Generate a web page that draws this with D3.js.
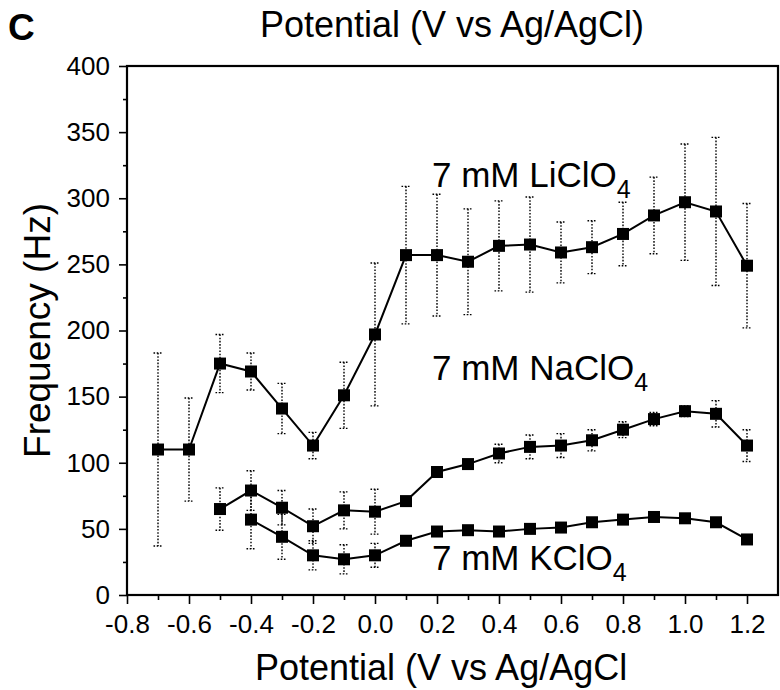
<!DOCTYPE html>
<html>
<head>
<meta charset="utf-8">
<script src="https://cdn.jsdelivr.net/npm/d3@7"></script>
<style>
  html, body { margin: 0; padding: 0; background: #fff; }
  svg { display: block; font-family: "Liberation Sans", Arial, sans-serif; }
</style>
</head>
<body>
<svg id="chart" width="780" height="690"></svg>
<script>
// ---- data ----
const liX = [-0.7,-0.6,-0.5,-0.4,-0.3,-0.2,-0.1,0.0,0.1,0.2,0.3,0.4,0.5,0.6,0.7,0.8,0.9,1.0,1.1,1.2];
const liY = [110,110,175,169,141,113,151,197,257,257,252,264,265,259,263,273,287,297,290,249];
const liErr = [73,39,22,14,19,10,25,54,52,46,40,34,36,23,20,24,29,44,56,47];

const naX = [-0.5,-0.4,-0.3,-0.2,-0.1,0.0,0.1,0.2,0.3,0.4,0.5,0.6,0.7,0.8,0.9,1.0,1.1,1.2];
const naY = [65,79,66,52,64,63,71,93,99,107,112,113,117,125,133,139,137,113];
const naErr = [16,15,13,13,14,17,3,3,3,7,9,9,8,6,5,4,10,12];

const kX = [-0.4,-0.3,-0.2,-0.1,0.0,0.1,0.2,0.3,0.4,0.5,0.6,0.7,0.8,0.9,1.0,1.1,1.2];
const kY = [57,44,30,27,30,41,48,49,48,50,51,55,57,59,58,55,42];
const kErr = [22,17,11,11,9,3,3,3,2,2,3,3,3,3,3,3,2];

const xTicks = [-0.8,-0.6,-0.4,-0.2,0.0,0.2,0.4,0.6,0.8,1.0,1.2];
const yTicks = [0,50,100,150,200,250,300,350,400];
const xMinor = [-0.7,-0.5,-0.3,-0.1,0.1,0.3,0.5,0.7,0.9,1.1];
const yMinor = [25,75,125,175,225,275,325,375];

const labelTexts = ["7 mM LiClO", "7 mM NaClO", "7 mM KClO"];
const labelSub = "4";

// ---- layout ----
const svg = d3.select("#chart");
const L = 127, R = 778, T = 66, B = 595;
const x = d3.scaleLinear().domain([-0.8, 1.3]).range([L, R]);
const y = d3.scaleLinear().domain([0, 400]).range([B, T]);

// axes
const xAxis = svg.append("g").attr("transform", `translate(0,${B})`)
  .call(d3.axisBottom(x).tickValues(xTicks).tickSize(9).tickPadding(11)
        .tickFormat(d => d.toFixed(1)));
const xMin = svg.append("g").attr("transform", `translate(0,${B})`)
  .call(d3.axisBottom(x).tickValues(xMinor).tickSize(5).tickFormat(""));
const yAxis = svg.append("g").attr("transform", `translate(${L},0)`)
  .call(d3.axisLeft(y).tickValues(yTicks).tickSize(8).tickPadding(9));
const yMin = svg.append("g").attr("transform", `translate(${L},0)`)
  .call(d3.axisLeft(y).tickValues(yMinor).tickSize(4).tickFormat(""));

[xAxis, xMin, yAxis, yMin].forEach(g => {
  g.select(".domain").remove();
  g.selectAll("line").attr("stroke", "#000").attr("stroke-width", 1.6);
  g.selectAll("text").attr("font-size", 26).attr("fill", "#000")
    .attr("font-family", '"Liberation Sans", Arial, sans-serif');
});

// frame
svg.append("rect").attr("x", L).attr("y", T).attr("width", R - L).attr("height", B - T)
  .attr("fill", "none").attr("stroke", "#000").attr("stroke-width", 2.2);

// series
function drawSeries(xs, ys, es) {
  const g = svg.append("g");
  const pts = xs.map((v, i) => ({x: v, y: ys[i], e: es[i]}));
  // error bars
  const eb = g.append("g").attr("stroke", "#000").attr("stroke-width", 1.4)
    .attr("stroke-dasharray", "1.6,1.6").attr("fill", "none");
  pts.forEach(p => {
    const cx = x(p.x), y1 = y(p.y + p.e), y2 = y(p.y - p.e);
    eb.append("line").attr("x1", cx).attr("x2", cx).attr("y1", y1).attr("y2", y2);
    eb.append("line").attr("x1", cx - 4.5).attr("x2", cx + 4.5).attr("y1", y1).attr("y2", y1);
    eb.append("line").attr("x1", cx - 4.5).attr("x2", cx + 4.5).attr("y1", y2).attr("y2", y2);
  });
  // line
  g.append("path").datum(pts)
    .attr("d", d3.line().x(d => x(d.x)).y(d => y(d.y)))
    .attr("fill", "none").attr("stroke", "#000").attr("stroke-width", 2);
  // markers
  g.selectAll("rect.m").data(pts).join("rect").attr("class", "m")
    .attr("x", d => x(d.x) - 6).attr("y", d => y(d.y) - 6)
    .attr("width", 12).attr("height", 12).attr("fill", "#000");
}
drawSeries(liX, liY, liErr);
drawSeries(naX, naY, naErr);
drawSeries(kX, kY, kErr);

// series labels
const labelPos = [[432, 187], [432, 380], [432, 570]];
labelTexts.forEach((t, i) => {
  const tx = svg.append("text").attr("x", labelPos[i][0]).attr("y", labelPos[i][1])
    .attr("font-size", 35).attr("fill", "#000");
  tx.append("tspan").text(t);
  tx.append("tspan").attr("font-size", 25).attr("dy", 11).text(labelSub);
});

// titles
svg.append("text").attr("x", 452).attr("y", 37).attr("text-anchor", "middle")
  .attr("font-size", 36).attr("fill", "#000").text("Potential (V vs Ag/AgCl)");
svg.append("text").attr("x", 255).attr("y", 680)
  .attr("font-size", 36).attr("fill", "#000").text("Potential (V vs Ag/AgCl");
svg.append("text").attr("transform", `translate(50,${(T + B) / 2}) rotate(-90)`)
  .attr("text-anchor", "middle").attr("font-size", 37).attr("fill", "#000")
  .text("Frequency (Hz)");
svg.append("text").attr("x", 8).attr("y", 40).attr("font-size", 37)
  .attr("font-weight", "bold").attr("fill", "#000").text("C");
</script>
</body>
</html>
